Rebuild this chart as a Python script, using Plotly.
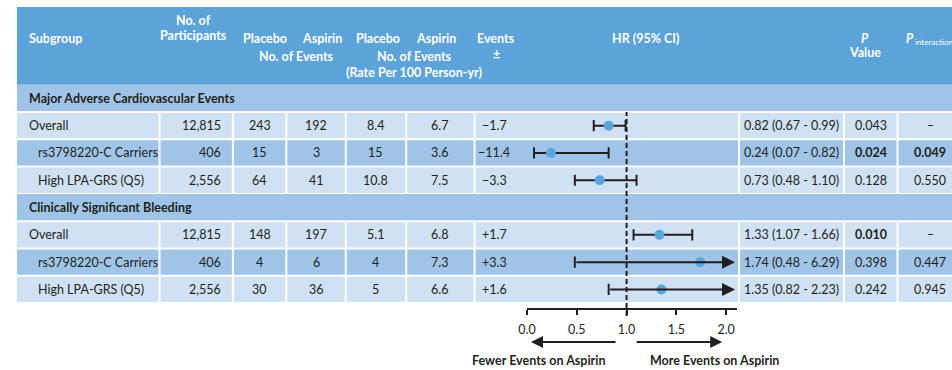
import plotly.graph_objects as go

# ---------------- data ----------------
sections = ["Major Adverse Cardiovascular Events", "Clinically Significant Bleeding"]
subgroups = ["Overall", "rs3798220-C Carriers", "High LPA-GRS (Q5)",
             "Overall", "rs3798220-C Carriers", "High LPA-GRS (Q5)"]
participants = ["12,815", "406", "2,556", "12,815", "406", "2,556"]
placebo_events = ["243", "15", "64", "148", "4", "30"]
aspirin_events = ["192", "3", "41", "197", "6", "36"]
placebo_rate = ["8.4", "15", "10.8", "5.1", "4", "5"]
aspirin_rate = ["6.7", "3.6", "7.5", "6.8", "7.3", "6.6"]
events_diff = ["−1.7", "−11.4", "−3.3", "+1.7", "+3.3", "+1.6"]
hr = [0.82, 0.24, 0.73, 1.33, 1.74, 1.35]
hr_lo = [0.67, 0.07, 0.48, 1.07, 0.48, 0.82]
hr_hi = [0.99, 0.82, 1.10, 1.66, 6.29, 2.23]
p_value = ["0.043", "0.024", "0.128", "0.010", "0.398", "0.242"]
p_value_bold = [False, True, False, True, False, False]
p_interaction = ["–", "0.049", "0.550", "–", "0.447", "0.945"]
p_interaction_bold = [False, True, False, False, False, False]
tick_vals = [0.0, 0.5, 1.0, 1.5, 2.0]
tick_text = ["0.0", "0.5", "1.0", "1.5", "2.0"]

# ---------------- layout constants ----------------
W, H = 952, 370
FONT = "Lato"
TXT = "#231f20"
C_HEAD = "#5ba3d8"
C_MID = "#9fc4e7"
C_LIGHT = "#cfe1f3"
DOT = "#5aa5dc"
ROW_Y0 = 84.7
ROW_H = 27.3
COLS = [8, 152, 226, 280, 340, 401, 470, 737, 843, 897, 952]
X_MAX = 2.11        # axis range end
X_CLIP = 2.09       # arrow tip for CIs beyond the axis
data_rows = [1, 2, 3, 5, 6, 7]
section_rows = [0, 4]


def px(x):
    return x / W


def py(y):
    return 1 - y / H


def row_top(k):
    return ROW_Y0 + k * ROW_H


def row_mid(k):
    return ROW_Y0 + (k + 0.5) * ROW_H


shapes = []
annotations = []

# header band
shapes.append(dict(type="rect", xref="paper", yref="paper", x0=px(8), x1=px(W),
                   y0=py(7), y1=py(ROW_Y0), fillcolor=C_HEAD, line_width=0, layer="below"))

# section bands
for k in section_rows:
    shapes.append(dict(type="rect", xref="paper", yref="paper", x0=px(8), x1=px(W),
                       y0=py(row_top(k)), y1=py(row_top(k + 1) - 1),
                       fillcolor=C_MID, line_width=0, layer="below"))

# cells
for i, k in enumerate(data_rows):
    color = C_MID if i % 3 == 1 else C_LIGHT
    for c in range(len(COLS) - 1):
        x0 = COLS[c] + (0 if c == 0 else 1)
        x1 = COLS[c + 1] - (0 if c == len(COLS) - 2 else 1)
        shapes.append(dict(type="rect", xref="paper", yref="paper", x0=px(x0), x1=px(x1),
                           y0=py(row_top(k) + 1), y1=py(row_top(k + 1) - 1),
                           fillcolor=color, line_width=0, layer="below"))


def add_text(x, y, text, anchor="center", size=12.5, color=TXT, bold=False):
    if bold:
        text = "<b>" + text + "</b>"
    annotations.append(dict(x=px(x), y=py(y), xref="paper", yref="paper", text=text,
                            showarrow=False, xanchor=anchor, yanchor="middle",
                            font=dict(family=FONT, size=size, color=color)))


# header texts
WH = "white"
add_text(18, 38, "Subgroup", "left", 12.5, WH, True)
add_text(186, 21, "No. of", "center", 12.5, WH, True)
add_text(186, 35, "Participants", "center", 12.5, WH, True)
add_text(258, 38, "Placebo", "center", 12.5, WH, True)
add_text(316, 38, "Aspirin", "center", 12.5, WH, True)
add_text(290, 57, "No. of Events", "center", 12.5, WH, True)
add_text(373, 38, "Placebo", "center", 12.5, WH, True)
add_text(431, 38, "Aspirin", "center", 12.5, WH, True)
add_text(409, 57, "No. of Events", "center", 12.5, WH, True)
add_text(409, 72, "(Rate Per 100 Person-yr)", "center", 12.5, WH, True)
add_text(492, 38, "Events", "center", 12.5, WH, True)
add_text(492, 54, "±", "center", 12.5, WH, True)
add_text(643, 38, "HR (95% CI)", "center", 12.5, WH, True)
add_text(864, 38, "<i>P</i>", "center", 12.5, WH, True)
add_text(864, 53, "Value", "center", 12.5, WH, True)
add_text(904, 38, "<i>P</i>", "left", 12.5, WH, True)
add_text(913, 42, "interaction", "left", 8, WH, False)

# section titles
for s, k in zip(sections, section_rows):
    add_text(18, row_mid(k), s, "left", 12.5, TXT, True)

# row texts
for i, k in enumerate(data_rows):
    y = row_mid(k)
    indent = 18 if i % 3 == 0 else 27
    add_text(indent, y, subgroups[i], "left")
    add_text(216, y, participants[i], "right")
    add_text(253, y, placebo_events[i])
    add_text(310, y, aspirin_events[i])
    add_text(370, y, placebo_rate[i])
    add_text(435, y, aspirin_rate[i])
    add_text(490, y, events_diff[i])
    add_text(790, y, f"{hr[i]:.2f} ({hr_lo[i]:.2f} - {hr_hi[i]:.2f})")
    add_text(870, y, p_value[i], bold=p_value_bold[i])
    add_text(930, y, p_interaction[i], bold=p_interaction_bold[i])

# bottom direction arrows + labels
annotations.append(dict(x=px(527), y=py(342), xref="paper", yref="paper", ax=86, ay=0,
                        text="", showarrow=True, arrowhead=2, arrowsize=1.2,
                        arrowwidth=2, arrowcolor=TXT))
annotations.append(dict(x=px(720), y=py(342), xref="paper", yref="paper", ax=-87, ay=0,
                        text="", showarrow=True, arrowhead=2, arrowsize=1.2,
                        arrowwidth=2, arrowcolor=TXT))
add_text(535, 360, "Fewer Events on Aspirin", "center", 12.5, TXT, True)
add_text(712, 360, "More Events on Aspirin", "center", 12.5, TXT, True)

fig = go.Figure()

# CI lines and caps
line_x, line_y, cap_x, cap_y = [], [], [], []
for i, k in enumerate(data_rows):
    cap_x.append(hr_lo[i]); cap_y.append(k)
    if hr_hi[i] <= X_MAX:
        line_x += [hr_lo[i], hr_hi[i], None]
        line_y += [k, k, None]
        cap_x.append(hr_hi[i]); cap_y.append(k)
    else:
        annotations.append(dict(x=X_CLIP, y=k, xref="x", yref="y", ax=hr_lo[i], ay=k,
                                axref="x", ayref="y", text="", showarrow=True,
                                arrowhead=2, arrowsize=1.3, arrowwidth=2, arrowcolor=TXT))

fig.add_trace(go.Scatter(x=line_x, y=line_y, mode="lines",
                         line=dict(color=TXT, width=2), hoverinfo="skip", showlegend=False))
fig.add_trace(go.Scatter(x=cap_x, y=cap_y, mode="markers",
                         marker=dict(symbol="line-ns", size=8, line=dict(color=TXT, width=2)),
                         hoverinfo="skip", showlegend=False))
fig.add_trace(go.Scatter(x=hr, y=data_rows, mode="markers",
                         marker=dict(color=DOT, size=10, line=dict(width=0)),
                         showlegend=False))

# reference line at HR = 1
shapes.append(dict(type="line", xref="x", yref="paper", x0=1, x1=1,
                   y0=py(316), y1=py(112), line=dict(color=TXT, width=2, dash="5px,3px")))

fig.update_layout(
    width=W, height=H, margin=dict(l=0, r=0, t=0, b=0),
    paper_bgcolor="white", plot_bgcolor="rgba(0,0,0,0)",
    shapes=shapes, annotations=annotations,
    font=dict(family=FONT, color=TXT),
    xaxis=dict(domain=[px(523), px(735)], range=[0, X_MAX], anchor="free",
               position=py(309), showline=True, linewidth=2, linecolor=TXT,
               ticks="outside", ticklen=5, tickwidth=2, tickcolor=TXT,
               tickvals=tick_vals, ticktext=tick_text, showgrid=False, zeroline=False,
               tickfont=dict(family=FONT, size=12.5, color=TXT), ticklabelstandoff=4,
               fixedrange=True),
    yaxis=dict(domain=[py(ROW_Y0 + 8 * ROW_H), py(ROW_Y0)], range=[7.5, -0.5],
               visible=False, fixedrange=True),
)

fig.write_html("out.html", config={"displayModeBar": False},
               post_script="document.body.style.margin='0';document.body.style.overflow='hidden';")
